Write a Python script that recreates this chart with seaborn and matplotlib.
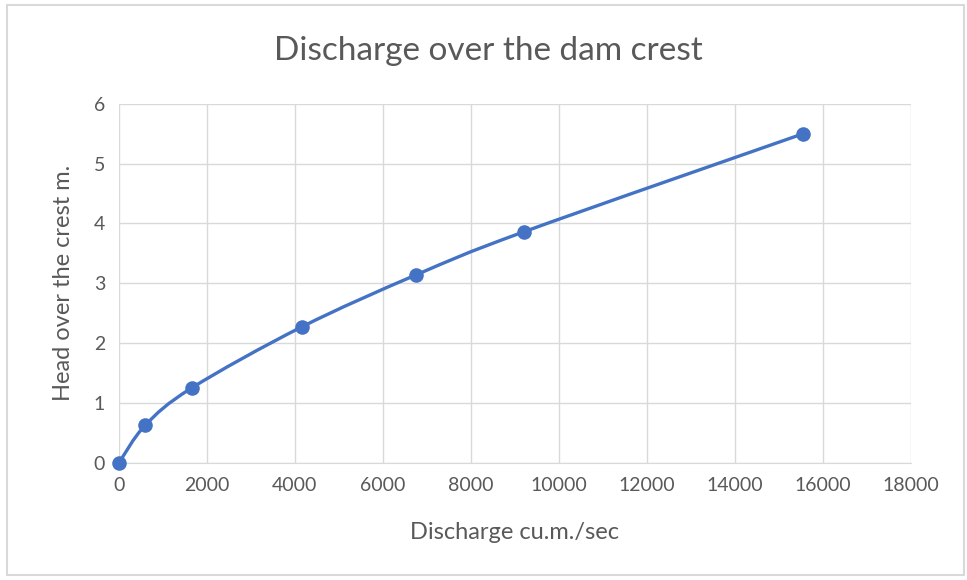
import numpy as np
import pandas as pd
import matplotlib
matplotlib.use("Agg")
import matplotlib.pyplot as plt
from matplotlib.path import Path
from matplotlib.patches import PathPatch, Rectangle
import seaborn as sns

# data
discharge = [0, 600, 1650, 4150, 6750, 9200, 15550]
head = [0, 0.63, 1.25, 2.27, 3.14, 3.86, 5.5]
x_ticks = [0, 2000, 4000, 6000, 8000, 10000, 12000, 14000, 16000, 18000]
y_ticks = [0, 1, 2, 3, 4, 5, 6]

df = pd.DataFrame({"Discharge": discharge, "Head": head})

sns.set_style("white")
plt.rcParams["font.family"] = ["Lato", "DejaVu Sans"]

blue = "#4472C4"
grey_txt = "#595959"

fig = plt.figure(figsize=(9.67, 5.8), dpi=100)
ax = fig.add_axes([0.123, 0.202, 0.819, 0.619])

# smoothed line (Excel-style bezier through the points)
pts = df[["Discharge", "Head"]].to_numpy(float)
verts = [pts[0]]
codes = [Path.MOVETO]
for i in range(len(pts) - 1):
    p0 = pts[i - 1] if i > 0 else pts[i]
    p1, p2 = pts[i], pts[i + 1]
    p3 = pts[i + 2] if i + 2 < len(pts) else pts[i + 1]
    c1 = p1 + (p2 - p0) / 6
    c2 = p2 - (p3 - p1) / 6
    verts += [c1, c2, p2]
    codes += [Path.CURVE4] * 3
ax.add_patch(PathPatch(Path(verts, codes), fill=False, edgecolor=blue, lw=2.4,
                       capstyle="round", zorder=3))

sns.scatterplot(data=df, x="Discharge", y="Head", ax=ax, color=blue, s=110,
                edgecolor=blue, linewidth=0, zorder=4, clip_on=False)

ax.set_xlim(0, 18000)
ax.set_ylim(0, 6)
ax.set_xticks(x_ticks)
ax.set_yticks(y_ticks)
ax.grid(True, color="#d9d9d9", lw=1)
for s in ["top", "right", "left"]:
    ax.spines[s].set_visible(False)
ax.spines["bottom"].set_color("#d9d9d9")
ax.tick_params(length=0, labelsize=14, colors=grey_txt, pad=10)
ax.set_xlabel("Discharge cu.m./sec", fontsize=17, color=grey_txt, labelpad=20)
ax.set_ylabel("Head over the crest m.", fontsize=17, color=grey_txt, labelpad=14)

fig.text(0.505, 0.912, "Discharge over the dam crest", ha="center", va="center",
         fontsize=24, color=grey_txt)

fig.patches.append(Rectangle((0.007, 0.008), 0.99, 0.984, transform=fig.transFigure,
                             fill=False, edgecolor="#d9d9d9", lw=1.5))

fig.savefig("out.png", dpi=100)
